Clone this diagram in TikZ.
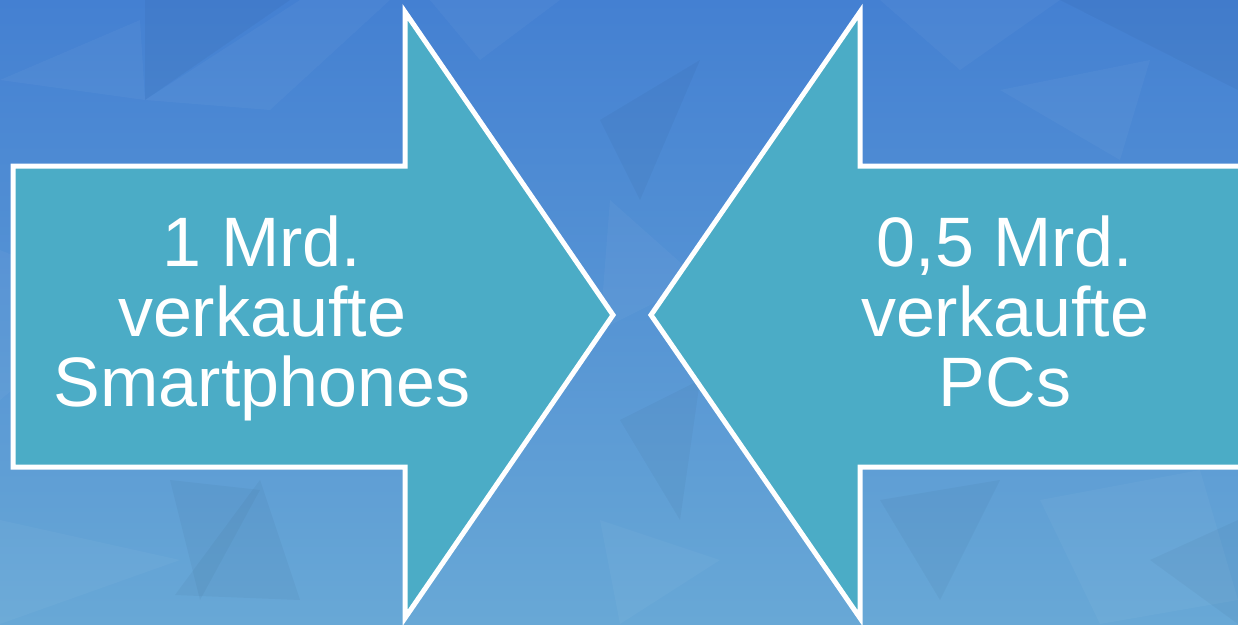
\documentclass[tikz,border=0pt]{standalone}
\usepackage{fontspec}
\setmainfont{Liberation Sans}
\begin{document}
\begin{tikzpicture}[x=1pt,y=-1pt,
  arrowshape/.style={fill=aqua, draw=white, line width=5pt, line join=miter},
  lbl/.style={text=white, align=center, inner sep=0pt, anchor=north,
    font=\fontsize{70}{70}\selectfont},
  poly/.style={fill=white, fill opacity=0.035, draw=none},
  polyd/.style={fill=black, fill opacity=0.03, draw=none}]
\definecolor{aqua}{RGB}{75,172,198}
\definecolor{bgtop}{RGB}{68,128,210}
\definecolor{bgbot}{RGB}{104,168,214}
\useasboundingbox (0,0) rectangle (1238,624);
\clip (0,0) rectangle (1238,624);
% background
\fill[top color=bgtop, bottom color=bgbot] (0,0) rectangle (1238,624);
% low-poly texture
\fill[poly] (0,80) -- (140,20) -- (145,100) -- cycle;
\fill[polyd] (145,0) -- (290,0) -- (145,100) -- cycle;
\fill[poly] (145,100) -- (300,0) -- (390,0) -- (270,110) -- cycle;
\fill[poly] (0,250) -- (120,300) -- (0,400) -- cycle;
\fill[polyd] (170,480) -- (260,490) -- (200,600) -- cycle;
\fill[poly] (0,520) -- (180,560) -- (0,624) -- cycle;
\fill[polyd] (260,480) -- (300,600) -- (175,595) -- cycle;
\fill[poly] (430,0) -- (560,0) -- (480,60) -- cycle;
\fill[polyd] (600,120) -- (700,60) -- (640,200) -- cycle;
\fill[poly] (610,200) -- (700,280) -- (600,330) -- cycle;
\fill[polyd] (620,420) -- (700,380) -- (680,520) -- cycle;
\fill[poly] (600,520) -- (720,560) -- (620,624) -- cycle;
\fill[poly] (880,0) -- (1060,0) -- (960,70) -- cycle;
\fill[polyd] (1060,0) -- (1238,0) -- (1238,90) -- cycle;
\fill[poly] (1000,90) -- (1150,60) -- (1120,160) -- cycle;
\fill[polyd] (880,500) -- (1000,480) -- (940,600) -- cycle;
\fill[poly] (1040,500) -- (1200,470) -- (1238,600) -- (1100,624) -- cycle;
\fill[polyd] (1150,560) -- (1238,520) -- (1238,624) -- cycle;
% arrows
\draw[arrowshape] (13,166) -- (405,166) -- (405,12) -- (613,315)
  -- (405,618) -- (405,467) -- (13,467) -- cycle;
\draw[arrowshape] (1250,166) -- (860,166) -- (860,12) -- (651,315)
  -- (860,618) -- (860,467) -- (1250,467) -- cycle;
% labels
\node[lbl] (L) at (262,216) {1 Mrd.\\verkaufte\\Smartphones};
\node[lbl] (R) at (1005,216) {0,5 Mrd.\\verkaufte\\PCs};
\end{tikzpicture}
\end{document}
